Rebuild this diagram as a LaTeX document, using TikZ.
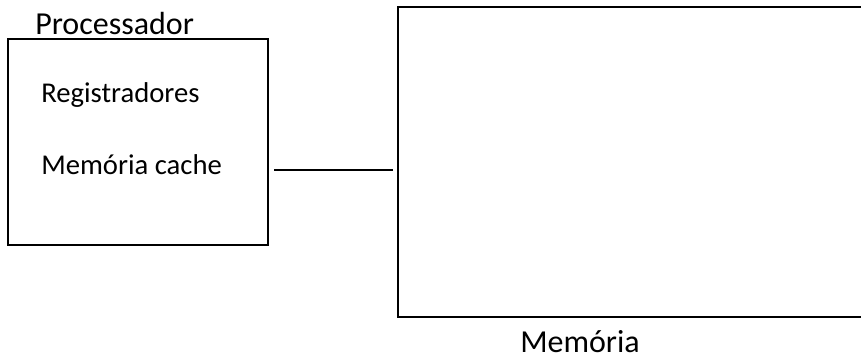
\documentclass[tikz,border=0pt]{standalone}
\usepackage{fontspec}
\setmainfont{Carlito}
\usetikzlibrary{positioning}

\begin{document}
\begin{tikzpicture}[x=0.75pt,y=-0.75pt]
    \tikzstyle{box} = [rectangle, draw=black, line width=1.7pt, inner sep=0pt]
    \tikzstyle{title} = [font=\fontsize{24}{28}\selectfont, inner sep=0pt, anchor=base west]
    \tikzstyle{item} = [font=\fontsize{21.5}{26}\selectfont, inner sep=0pt, anchor=base west]
    \tikzstyle{bus} = [line width=1.7pt, shorten <=3.75pt, shorten >=3.75pt]
    \useasboundingbox (0,0) rectangle (861,359);

    % processor with its two parts
    \node (proc) [box, minimum width=195pt, minimum height=154.5pt] at (138,142) {};
    \node (proctitle) [title] at (35,35) {Processador};
    \node (reg) [item] at (41,103) {Registradores};
    \node (cache) [item] at (41,175) {Memória cache};

    % main memory, open to the right
    \node (mem) [rectangle, inner sep=0pt, minimum width=450pt, minimum height=232.5pt] at (698,162) {};
    \draw [line width=1.7pt] (mem.north east) -- (mem.north west) -- (mem.south west) -- (mem.south east);
    \node (memtitle) [title] at (520,353) {Memória};

    \coordinate (link) at (0,170);
    \draw [bus] (proc.east |- link) -- (mem.west |- link);
\end{tikzpicture}
\end{document}
